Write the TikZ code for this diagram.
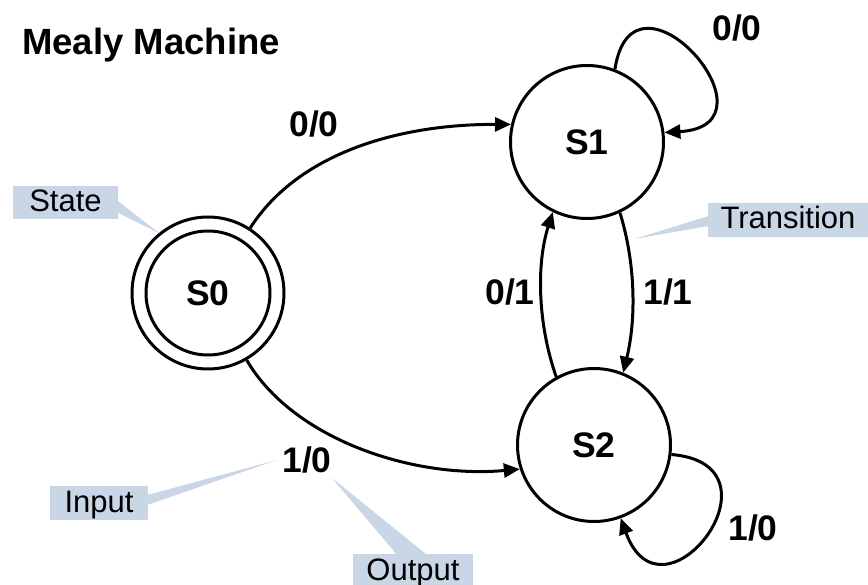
\documentclass[tikz,border=0pt]{standalone}
\usepackage{fontspec}
\setmainfont{Liberation Sans}
\usetikzlibrary{arrows.meta,calc}
\definecolor{callout}{RGB}{200,214,230}
\begin{document}
\begin{tikzpicture}[x=1pt,y=-1pt,
  state/.style={circle,draw,line width=3pt,inner sep=0pt,minimum size=153pt,
    font=\fontsize{35.5}{42}\selectfont\bfseries},
  edge/.style={line width=3pt,-{Triangle[length=16pt,width=14pt]}},
  lbl/.style={anchor=base,inner sep=0pt,font=\fontsize{35.5}{42}\selectfont\bfseries},
  callbox/.style={fill=callout,inner sep=0pt,text height=24pt,text depth=6pt,
    minimum height=34pt,font=\fontsize{31}{37}\selectfont},
  wedge/.style={fill=callout}]
\useasboundingbox (0,0) rectangle (868,585);

% callout tips
\coordinate (statetip) at (159,233);
\coordinate (transtip) at (634,239);
\coordinate (inputtip) at (277,460);
\coordinate (outputtip) at (332,478);

% callout boxes
\node[callbox,minimum width=105pt,minimum height=33pt] (stateb) at (65.5,202.5) {State};
\node[callbox,minimum width=160pt] (transb) at (788,220) {Transition};
\node[callbox,minimum width=98pt] (inputb) at (99,503) {Input};
\node[callbox,minimum width=120pt] (outputb) at (413,571) {Output};

% wedges
\fill[wedge] ($(stateb.east)+(-1,-2)$) -- (statetip) -- ($(stateb.east)+(-1,10)$) -- cycle;
\fill[wedge] ($(transb.west)+(1,-4)$) -- (transtip) -- ($(transb.west)+(1,6)$) -- cycle;
\fill[wedge] ($(inputb.east)+(-1,-8)$) -- (inputtip) -- ($(inputb.east)+(-1,2)$) -- cycle;
\fill[wedge] ($(outputb.north)+(-16,1)$) -- (outputtip) -- ($(outputb.north)+(14,1)$) -- cycle;

% title
\node[anchor=base west,inner sep=0pt,font=\fontsize{36.5}{43}\selectfont\bfseries]
  (title) at (22,55) {Mealy Machine};

% states
\node[state,minimum size=152pt] (s0) at (208,293) {};
\node[state,minimum size=124pt] (s0in) at (s0) {S0};
\node[state] (s1) at (587,142) {S1};
\node[state] (s2) at (594,445) {S2};

% transitions
\draw[edge] (s0.57) .. controls (299,152) and (401,124) .. (s1.167);
\draw[edge] (s0.-60) .. controls (292,438) and (411,479) .. (s2.198);
\draw[edge] (s1.-65) .. controls (636,265) and (636,320) .. (s2.68);
\draw[edge] (s2.119) .. controls (538,325) and (536,265) .. (s1.-116);
\draw[edge] (s1.69) .. controls +(18,-118) and +(122,-7) .. (s1.7);
\draw[edge] (s2.-7) .. controls +(120,10) and +(42,115) .. (s2.-70);

% labels
\node[lbl] (l00a) at (314,137) {0/0};
\node[lbl] (l00b) at (737,41) {0/0};
\node[lbl] (l01) at (510,305) {0/1};
\node[lbl] (l11) at (668,305) {1/1};
\node[lbl] (l10a) at (307,472) {1/0};
\node[lbl] (l10b) at (753,540) {1/0};
\end{tikzpicture}
\end{document}
